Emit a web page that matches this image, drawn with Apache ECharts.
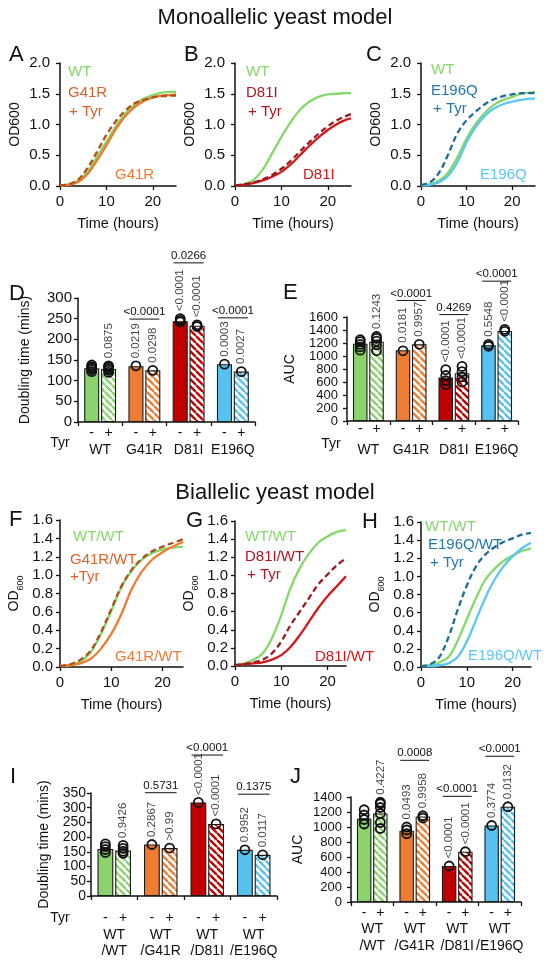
<!DOCTYPE html>
<html><head><meta charset="utf-8">
<script src="https://cdn.jsdelivr.net/npm/echarts@6/dist/echarts.min.js"></script>
<style>html,body{margin:0;padding:0;background:#fff}#c{width:550px;height:970px}</style>
</head><body><div id="c"></div>
<script>
// ---------------- DATA ----------------
const hoursMono = [0,2,4,6,8,10,12,14,16,18,20,22,24,25];
const hoursBi   = [0,2,4,6,8,10,12,14,16,18,20,22,24];
const timeTicks = [0,10,20];

// Panel A
const aWT      = [0.01,0.03,0.09,0.24,0.48,0.72,0.97,1.17,1.32,1.42,1.48,1.52,1.53,1.53];
const aG41R    = [0.01,0.02,0.07,0.20,0.42,0.66,0.92,1.13,1.28,1.38,1.44,1.47,1.48,1.49];
const aG41RTyr = [0.01,0.03,0.11,0.30,0.56,0.83,1.05,1.22,1.34,1.40,1.44,1.46,1.47,1.47];
// Panel B
const bWT      = [0.01,0.03,0.10,0.27,0.53,0.80,1.04,1.24,1.37,1.45,1.49,1.50,1.51,1.51];
const bD81I    = [0.01,0.02,0.05,0.09,0.15,0.23,0.35,0.50,0.65,0.79,0.91,1.01,1.08,1.10];
const bD81ITyr = [0.01,0.03,0.06,0.11,0.18,0.28,0.41,0.56,0.71,0.85,0.97,1.07,1.14,1.17];
// Panel C
const cWT       = [0.01,0.03,0.09,0.22,0.47,0.77,1.01,1.19,1.32,1.40,1.45,1.50,1.52,1.53];
const cE196Q    = [0.01,0.02,0.06,0.17,0.39,0.71,0.96,1.14,1.26,1.33,1.37,1.40,1.42,1.42];
const cE196QTyr = [0.02,0.06,0.22,0.52,0.86,1.07,1.21,1.33,1.41,1.46,1.49,1.51,1.51,1.51];
// Panel F
const fWT      = [0.01,0.02,0.06,0.16,0.36,0.61,0.87,1.05,1.17,1.24,1.28,1.30,1.31];
const fG41R    = [0.01,0.02,0.04,0.09,0.20,0.36,0.58,0.85,1.04,1.17,1.25,1.31,1.36];
const fG41RTyr = [0.01,0.03,0.08,0.18,0.38,0.63,0.88,1.06,1.18,1.26,1.31,1.35,1.39];
// Panel G
const gWT      = [0.01,0.03,0.07,0.14,0.31,0.56,0.86,1.08,1.24,1.36,1.43,1.48,1.50];
const gD81I    = [0.01,0.02,0.03,0.04,0.07,0.12,0.21,0.34,0.49,0.64,0.77,0.88,0.99];
const gD81ITyr = [0.01,0.02,0.04,0.07,0.14,0.27,0.45,0.60,0.75,0.90,1.01,1.11,1.19];
// Panel H
const hWT       = [0.01,0.02,0.05,0.11,0.29,0.53,0.76,0.96,1.08,1.17,1.23,1.28,1.31];
const hE196Q    = [0.01,0.01,0.02,0.04,0.11,0.28,0.52,0.76,0.96,1.11,1.22,1.31,1.37];
const hE196QTyr = [0.01,0.03,0.11,0.33,0.63,0.90,1.11,1.24,1.32,1.38,1.42,1.46,1.48];

// Bar panels
const monoCats = ['WT','G41R','D81I','E196Q'];
const biCats   = ['WT\n/WT','WT\n/G41R','WT\n/D81I','WT\n/E196Q'];

// D: doubling time (mono)
const dMinus = [130,135,244,140];
const dPlus  = [128,125,233,122];
const dDotsMinus = [[122,127,131,134,138],[136],[242,246,250],[140]];
const dDotsPlus  = [[120,125,129,133,136],[125],[231,235],[122]];
const dPMinus = ['','0.0219','<0.0001','0.0003'];
const dPPlus  = ['0.0875','0.0298','<0.0001','0.0027'];
const dBrText  = ['','<0.0001','0.0266','<0.0001'];
const dBrLevel = [0,249,385,252];

// E: AUC (mono)
const eMinus = [1190,1090,670,1165];
const ePlus  = [1220,1180,735,1385];
const eDotsMinus = [[1090,1140,1180,1220,1250],[1080],[560,620,700,790],[1150,1180]];
const eDotsPlus  = [[1080,1170,1230,1270,1300],[1180],[600,680,760,840],[1380,1410]];
const ePMinus = ['','0.0181','<0.0001','0.5548'];
const ePPlus  = ['0.1243','0.9957','<0.0001','<0.0001'];
const eBrText  = ['','<0.0001','0.4269','<0.0001'];
const eBrLevel = [0,1855,1637,2151];

// I: doubling time (bi)
const iMinus = [160,175,318,157];
const iPlus  = [155,163,245,140];
const iDotsMinus = [[148,158,168,177],[175],[318],[157]];
const iDotsPlus  = [[145,152,162,172],[163],[245],[140]];
const iPMinus = ['','0.2867','<0.0001','0.9952'];
const iPPlus  = ['0.9426','>0.99','<0.0001','0.0117'];
const iBrText  = ['','0.5731','<0.0001','0.1375'];
const iBrLevel = [0,351,479,346];

// J: AUC (bi)
const jMinus = [1110,950,480,1020];
const jPlus  = [1180,1140,670,1270];
const jDotsMinus = [[1040,1100,1160,1230],[910,960,1000],[480],[1020]];
const jDotsPlus  = [[980,1060,1180,1260,1310,1330],[1120,1150],[670],[1270]];
const jPMinus = ['','0.0493','<0.0001','0.3774'];
const jPPlus  = ['0.4227','0.9958','<0.0001','0.0132'];
const jBrText  = ['','0.0008','<0.0001','<0.0001'];
const jBrLevel = [0,1889,1409,1943];

// ---------------- STYLE ----------------
const FONT = "'Liberation Sans', Arial, sans-serif";
const INK = '#111';
const COL = {
  wt:'#84d86a', g41r:'#f07a30', g41rTyr:'#b0501c', d81i:'#d21818', d81iTyr:'#9c1a22',
  e196q:'#5ac6f2', e196qTyr:'#1d6c9a'
};
const barColors = ['#8bd36c','#ee7d33','#c00000','#57c1ef'];
const BAR_W = 0.34, BAR_GAP = 0.12;
const OFF = (BAR_W + BAR_W*BAR_GAP)/2;

function hatch(color){
  const s = 7, cv = document.createElement('canvas');
  cv.width = s; cv.height = s;
  const ctx = cv.getContext('2d');
  ctx.fillStyle = '#fff'; ctx.fillRect(0,0,s,s);
  ctx.strokeStyle = color; ctx.lineWidth = 2.4;
  for (const o of [-s,0,s]) { ctx.beginPath(); ctx.moveTo(o,0); ctx.lineTo(o+s,s); ctx.stroke(); }
  return {image: cv, repeat: 'repeat'};
}

const option = {animation:false, grid:[], xAxis:[], yAxis:[], series:[], graphic:[]};
const axLine = {show:true, onZero:false, lineStyle:{color:INK, width:1.5}};
const axTick = {show:true, length:4, lineStyle:{color:INK, width:1.3}};
const lblCommon = {showMinLabel:true, showMaxLabel:true, hideOverlap:false};

function addGrid(b){
  option.grid.push({left:b[0], top:b[1], width:b[2], height:b[3], containLabel:false, outerBoundsMode:'none'});
  return option.grid.length - 1;
}

function linePanel(o){
  const gi = addGrid(o.box);
  const xi = option.xAxis.length, yi = option.yAxis.length;
  option.xAxis.push({type:'value', gridIndex:gi, min:0, max:o.xMax,
    name:'Time (hours)', nameLocation:'middle', nameGap:30, nameMoveOverlap:false,
    nameTextStyle:{fontSize:14.5, fontFamily:FONT, color:INK},
    axisLine:axLine, axisTick:Object.assign({customValues:timeTicks}, axTick),
    axisLabel:{customValues:timeTicks, fontSize:15, fontFamily:FONT, color:INK, margin:8},
    splitLine:{show:false}});
  option.yAxis.push({type:'value', gridIndex:gi, min:0, max:o.yMax, interval:o.yInt,
    name:o.yName, nameLocation:'middle', nameGap:o.nameGap, nameRotate:90, nameMoveOverlap:false,
    nameTextStyle:Object.assign({fontSize:14, fontFamily:FONT, color:INK}, o.nameRich ? {rich:o.nameRich} : {}),
    axisLine:axLine, axisTick:axTick,
    axisLabel:Object.assign({formatter:v=>v.toFixed(1), fontSize:15, lineHeight:13, fontFamily:FONT, color:INK, margin:o.lblMargin}, lblCommon),
    splitLine:{show:false}});
  o.curves.forEach(c => option.series.push({
    type:'line', xAxisIndex:xi, yAxisIndex:yi, smooth:0.35, showSymbol:false, symbol:'none', silent:true,
    data:o.hours.map((h,k)=>[h, c.data[k]]),
    lineStyle:{color:c.color, width:2.3, type:c.dashed ? [6,3.5] : 'solid'},
    z:c.dashed ? 4 : 3
  }));
}

function barPanel(o){
  const gi = addGrid(o.box);
  const catW = o.box[2] / o.cats.length;
  const pmW = catW * 2 * OFF;
  const xc = option.xAxis.length;
  option.xAxis.push({type:'category', gridIndex:gi, data:o.cats,
    axisLine:axLine, axisTick:Object.assign({alignWithLabel:false, interval:0}, axTick),
    axisLabel:{interval:0, margin:o.lblMargin, color:INK, hideOverlap:false,
      formatter:v => '{pm|-}{pm|+}\n{g|' + v + '}',
      rich:{
        pm:{width:pmW, align:'center', fontSize:14, lineHeight:o.pmLH, fontFamily:FONT, color:INK},
        g:{align:'center', fontSize:14, lineHeight:o.gLH, fontFamily:FONT, color:INK}
      }},
    splitLine:{show:false}});
  const xv = option.xAxis.length;
  option.xAxis.push({type:'value', gridIndex:gi, min:-0.5, max:3.5, show:false});
  const yi = option.yAxis.length;
  option.yAxis.push({type:'value', gridIndex:gi, min:0, max:o.yMax, interval:o.yInt,
    name:o.yName, nameLocation:'middle', nameGap:o.nameGap, nameRotate:90, nameMoveOverlap:false,
    nameTextStyle:{fontSize:14, fontFamily:FONT, color:INK},
    axisLine:axLine, axisTick:axTick,
    axisLabel:Object.assign({formatter:v=>String(v), fontSize:o.tickFont, lineHeight:11, fontFamily:FONT, color:INK, margin:o.yMargin}, lblCommon),
    splitLine:{show:false}});

  const border = {borderColor:'#1a1a1a', borderWidth:1.1};
  option.series.push({type:'bar', xAxisIndex:xc, yAxisIndex:yi, barWidth:(BAR_W*100)+'%', barGap:(BAR_GAP*100)+'%', silent:true,
    data:o.minus.map((v,i)=>({value:v, itemStyle:Object.assign({color:barColors[i]}, border)})), z:2});
  option.series.push({type:'bar', xAxisIndex:xc, yAxisIndex:yi, barWidth:(BAR_W*100)+'%', barGap:(BAR_GAP*100)+'%', silent:true,
    data:o.plus.map((v,i)=>({value:v, itemStyle:Object.assign({color:hatch(barColors[i])}, border)})), z:2});

  const dots = [];
  o.dotsM.forEach((arr,i)=>arr.forEach(v=>dots.push([i-OFF, v])));
  o.dotsP.forEach((arr,i)=>arr.forEach(v=>dots.push([i+OFF, v])));
  option.series.push({type:'scatter', xAxisIndex:xv, yAxisIndex:yi, data:dots, symbol:'circle', symbolSize:9, silent:true,
    itemStyle:{color:'rgba(0,0,0,0)', borderColor:INK, borderWidth:1.8, opacity:1}, z:5});

  const labs = [];
  o.pM.forEach((t,i)=>{ if (t) labs.push({name:t, value:[i-OFF, Math.max(o.minus[i], ...o.dotsM[i])]}); });
  o.pP.forEach((t,i)=>{ if (t) labs.push({name:t, value:[i+OFF, Math.max(o.plus[i], ...o.dotsP[i])]}); });
  option.series.push({type:'scatter', xAxisIndex:xv, yAxisIndex:yi, data:labs, symbol:'circle', symbolSize:9, silent:true,
    itemStyle:{color:'rgba(0,0,0,0)'},
    label:{show:true, position:'top', rotate:90, align:'left', verticalAlign:'middle', distance:3,
      formatter:p=>p.name, fontSize:11.5, fontFamily:FONT, color:INK}, z:6});

  const brIdx = [], brData = [];
  o.brText.forEach((t,i)=>{ if (t) { brIdx.push(t); brData.push([i, o.brLevel[i]]); } });
  option.series.push({type:'custom', xAxisIndex:xv, yAxisIndex:yi, data:brData, clip:false, silent:true, z:7,
    renderItem:(params, api)=>{
      const x = api.value(0), y = api.value(1);
      const p1 = api.coord([x - 0.34, y]), p2 = api.coord([x + 0.34, y]);
      return {type:'group', children:[
        {type:'line', shape:{x1:p1[0], y1:p1[1], x2:p2[0], y2:p2[1]}, style:{stroke:INK, lineWidth:1}},
        {type:'text', x:(p1[0]+p2[0])/2, y:p1[1]-1,
          style:{text:brIdx[params.dataIndex], align:'center', verticalAlign:'bottom', textAlign:'center', textVerticalAlign:'bottom',
            fontSize:11.5, fontFamily:FONT, fill:INK}}
      ]};
    }});
}

const odRich = {
  a:{fontSize:14, lineHeight:18, verticalAlign:'top', fontFamily:FONT, color:INK},
  b:{fontSize:9, lineHeight:10, verticalAlign:'bottom', fontFamily:FONT, color:INK}
};

// ---------------- PANELS ----------------
linePanel({box:[60,63,116,123], hours:hoursMono, xMax:25, yMax:2, yInt:0.5, yName:'OD600', nameGap:38, lblMargin:10,
  curves:[{data:aWT,color:COL.wt},{data:aG41R,color:COL.g41r},{data:aG41RTyr,color:COL.g41rTyr,dashed:true}]});
linePanel({box:[235,63,116,123], hours:hoursMono, xMax:25, yMax:2, yInt:0.5, yName:'OD600', nameGap:38, lblMargin:10,
  curves:[{data:bWT,color:COL.wt},{data:bD81I,color:COL.d81i},{data:bD81ITyr,color:COL.d81iTyr,dashed:true}]});
linePanel({box:[421,63,114,123], hours:hoursMono, xMax:25, yMax:2, yInt:0.5, yName:'OD600', nameGap:38, lblMargin:10,
  curves:[{data:cWT,color:COL.wt},{data:cE196Q,color:COL.e196q},{data:cE196QTyr,color:COL.e196qTyr,dashed:true}]});

barPanel({box:[78,298,177,124], cats:monoCats, minus:dMinus, plus:dPlus, dotsM:dDotsMinus, dotsP:dDotsPlus,
  pM:dPMinus, pP:dPPlus, brText:dBrText, brLevel:dBrLevel, yMax:300, yInt:50, yName:'Doubling time (mins)',
  nameGap:46, yMargin:6, tickFont:15, lblMargin:3, pmLH:17, gLH:16});
barPanel({box:[347,317,171,104], cats:monoCats, minus:eMinus, plus:ePlus, dotsM:eDotsMinus, dotsP:eDotsPlus,
  pM:ePMinus, pP:ePPlus, brText:eBrText, brLevel:eBrLevel, yMax:1600, yInt:200, yName:'AUC',
  nameGap:50, yMargin:9, tickFont:13, lblMargin:0, pmLH:16, gLH:26});

linePanel({box:[60,520,123,147], hours:hoursBi, xMax:24, yMax:1.6, yInt:0.2, yName:'{a|OD}{b|600}', nameRich:odRich, nameGap:35, lblMargin:7,
  curves:[{data:fWT,color:COL.wt},{data:fG41R,color:COL.g41r},{data:fG41RTyr,color:COL.g41rTyr,dashed:true}]});
linePanel({box:[235,521,111,145], hours:hoursBi, xMax:24, yMax:1.6, yInt:0.2, yName:'{a|OD}{b|600}', nameRich:odRich, nameGap:35, lblMargin:7,
  curves:[{data:gWT,color:COL.wt},{data:gD81I,color:COL.d81i},{data:gD81ITyr,color:COL.d81iTyr,dashed:true}]});
linePanel({box:[421,522,110,145], hours:hoursBi, xMax:24, yMax:1.6, yInt:0.2, yName:'{a|OD}{b|600}', nameRich:odRich, nameGap:35, lblMargin:7,
  curves:[{data:hWT,color:COL.wt},{data:hE196Q,color:COL.e196q},{data:hE196QTyr,color:COL.e196qTyr,dashed:true}]});

barPanel({box:[91,793,186,103], cats:biCats, minus:iMinus, plus:iPlus, dotsM:iDotsMinus, dotsP:iDotsPlus,
  pM:iPMinus, pP:iPPlus, brText:iBrText, brLevel:iBrLevel, yMax:350, yInt:50, yName:'Doubling time (mins)',
  nameGap:40, yMargin:5, tickFont:14, lblMargin:13, pmLH:18, gLH:16});
barPanel({box:[351,797,170,105], cats:biCats, minus:jMinus, plus:jPlus, dotsM:jDotsMinus, dotsP:jDotsPlus,
  pM:jPMinus, pP:jPPlus, brText:jBrText, brLevel:jBrLevel, yMax:1400, yInt:200, yName:'AUC',
  nameGap:46, yMargin:9, tickFont:13, lblMargin:3, pmLH:16, gLH:17});

// ---------------- TEXT ANNOTATIONS ----------------
function txt(t, x, y, size, color, align){
  option.graphic.push({type:'text', x:x, y:y, silent:true,
    style:{text:t, fontSize:size, fontFamily:FONT, fill:color||INK,
      align:align||'left', verticalAlign:'middle', textAlign:align||'left', textVerticalAlign:'middle'}});
}
txt('Monoallelic yeast model', 275, 18, 22, INK, 'center');
txt('Biallelic yeast model', 275, 493, 22, INK, 'center');
[['A',9,55],['B',184,55],['C',366,55],['D',9,294],['E',283,293],['F',9,520],['G',186,521],['H',362,522],['I',10,777],['J',290,777]]
  .forEach(l => txt(l[0], l[1], l[2], 22, INK));
txt('Tyr', 60, 443, 14, INK, 'center');
txt('Tyr', 331, 444, 14, INK, 'center');
txt('Tyr', 60, 918, 14, INK, 'center');

const labG41RTyr = '#dc622a', labD81ITyr = '#ad1820', labE196QTyr = '#2477a9';
txt('WT', 68, 72, 15, COL.wt); txt('G41R', 68, 93, 15, labG41RTyr); txt('+ Tyr', 69, 112, 15, labG41RTyr); txt('G41R', 115, 175, 15, COL.g41r);
txt('WT', 246, 72, 15, COL.wt); txt('D81I', 246, 93, 15, labD81ITyr); txt('+ Tyr', 248, 112, 15, labD81ITyr); txt('D81I', 303, 175, 15, COL.d81i);
txt('WT', 431, 70, 15, COL.wt); txt('E196Q', 431, 91, 15, labE196QTyr); txt('+ Tyr', 433, 109, 15, labE196QTyr); txt('E196Q', 480, 175, 15, COL.e196q);
txt('WT/WT', 73, 537, 15, COL.wt); txt('G41R/WT', 70, 560, 15, labG41RTyr); txt('+Tyr', 70, 577, 15, labG41RTyr); txt('G41R/WT', 115, 657, 15, COL.g41r);
txt('WT/WT', 245, 537, 15, COL.wt); txt('D81I/WT', 245, 557, 15, labD81ITyr); txt('+ Tyr', 247, 575, 15, labD81ITyr); txt('D81I/WT', 315, 657, 15, COL.d81i);
txt('WT/WT', 425, 527, 15, COL.wt); txt('E196Q/WT', 428, 545, 15, labE196QTyr); txt('+ Tyr', 430, 563, 15, labE196QTyr); txt('E196Q/WT', 468, 656, 15, COL.e196q);

const chart = echarts.init(document.getElementById('c'), null, {renderer:'canvas'});
chart.setOption(option);
</script>
</body></html>
